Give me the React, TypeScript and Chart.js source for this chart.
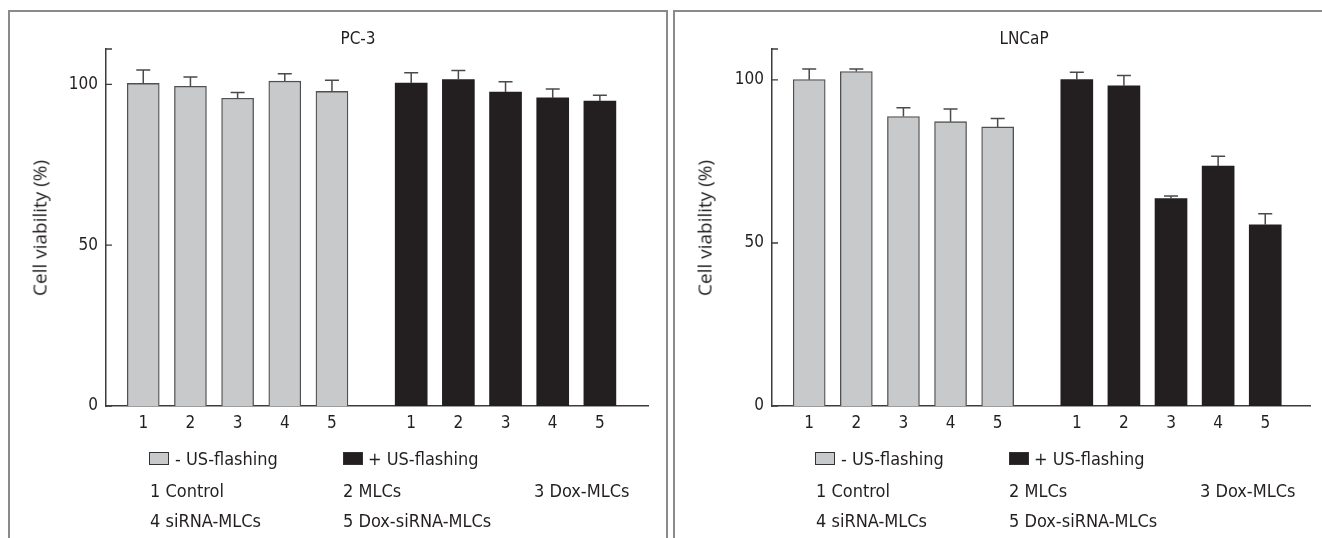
import React, { useEffect, useRef } from "react";
import { Chart, registerables } from "chart.js";

Chart.register(...registerables);

// ---------- data ----------
const tickLabels = ["1", "2", "3", "4", "5"];
const yTickValues = [0, 50, 100];
const seriesLabels = ["- US-flashing", "+ US-flashing"];
const treatmentLabels = ["1 Control", "2 MLCs", "3 Dox-MLCs", "4 siRNA-MLCs", "5 Dox-siRNA-MLCs"];
const yAxisTitle = "Cell viability (%)";

const pc3Title = "PC-3";
const pc3Minus = [100.3, 99.4, 95.7, 101.0, 97.8];
const pc3MinusErr = [4.2, 2.9, 1.8, 2.3, 3.5];
const pc3Plus = [100.4, 101.5, 97.6, 95.8, 94.8];
const pc3PlusErr = [3.2, 2.8, 3.2, 2.8, 1.8];

const lncapTitle = "LNCaP";
const lncapMinus = [100.1, 102.6, 88.8, 87.2, 85.6];
const lncapMinusErr = [3.3, 0.8, 2.7, 3.9, 2.6];
const lncapPlus = [100.1, 98.2, 63.6, 73.6, 55.6];
const lncapPlusErr = [2.3, 3.2, 0.8, 3.0, 3.4];

// ---------- styles / layout ----------
const GRAY = "#c8c9cb";
const BLACK = "#231f20";
const AXIS = "#3c3c3c";
const TEXT = "#231f20";
const COND = "'DejaVu Sans Condensed', 'Liberation Sans Narrow', sans-serif";
const HUMAN = "'Open Sans', 'Noto Sans', sans-serif";
const TOP = 10;
const PAGE_H = 538;
const AXIS_TOP = 49;
const BASE_Y = 406;
const GROUP_SHIFT = 5.68; // slot shift of the second group

const minusPos = tickLabels.map((_, i) => i + 1);
const plusPos = tickLabels.map((_, i) => i + 1 + GROUP_SHIFT);

type Layout = {
  left: number;
  width: number;
  axisX: number;
  axisEndX: number;
  xMin: number;
  xMax: number;
  yMax: number;
  titleX: number;
};

type PanelCfg = {
  title: string;
  minus: number[];
  minusErr: number[];
  plus: number[];
  plusErr: number[];
  L: Layout;
};

const panels: PanelCfg[] = [
  {
    title: pc3Title,
    minus: pc3Minus,
    minusErr: pc3MinusErr,
    plus: pc3Plus,
    plusErr: pc3PlusErr,
    L: { left: 8, width: 660, axisX: 106, axisEndX: 648, xMin: 0.21, xMax: 11.7, yMax: 111, titleX: 358 },
  },
  {
    title: lncapTitle,
    minus: lncapMinus,
    minusErr: lncapMinusErr,
    plus: lncapPlus,
    plusErr: lncapPlusErr,
    L: { left: 673, width: 700, axisX: 772, axisEndX: 1310, xMin: 0.21, xMax: 11.63, yMax: 109.5, titleX: 1024 },
  },
];

const errorBarPlugin = {
  id: "errbars",
  afterDatasetsDraw(chart: any) {
    const ctx = chart.ctx;
    const ys = chart.scales.y;
    chart.data.datasets.forEach((ds: any, di: number) => {
      const meta = chart.getDatasetMeta(di);
      meta.data.forEach((el: any, i: number) => {
        const v = ds.data[i].y;
        const e = ds.errors[i];
        const yTop = ys.getPixelForValue(v + e);
        ctx.save();
        ctx.strokeStyle = "#4a4a4a";
        ctx.lineWidth = 1.5;
        ctx.beginPath();
        ctx.moveTo(el.x, el.y);
        ctx.lineTo(el.x, yTop);
        ctx.moveTo(el.x - 7, yTop);
        ctx.lineTo(el.x + 7, yTop);
        ctx.stroke();
        ctx.restore();
      });
    });
  },
};

const axisTickPlugin = {
  id: "inticks",
  afterDraw(chart: any) {
    const ctx = chart.ctx;
    const ys = chart.scales.y;
    const x0 = chart.chartArea.left;
    ctx.save();
    ctx.strokeStyle = AXIS;
    ctx.lineWidth = 1.3;
    ctx.beginPath();
    yTickValues.forEach((v) => {
      const y = ys.getPixelForValue(v);
      ctx.moveTo(x0, y);
      ctx.lineTo(x0 + 6, y);
    });
    ctx.moveTo(x0, chart.chartArea.top);
    ctx.lineTo(x0 + 6, chart.chartArea.top);
    ctx.stroke();
    ctx.restore();
  },
};

function PanelChart({ cfg }: { cfg: PanelCfg }) {
  const ref = useRef<HTMLCanvasElement>(null);
  const L = cfg.L;
  const W = L.width;
  const H = PAGE_H - TOP;
  useEffect(() => {
    const font = { family: COND, size: 17 };
    const chart = new Chart(ref.current as HTMLCanvasElement, {
      type: "bar",
      data: {
        datasets: [
          {
            label: seriesLabels[0],
            data: minusPos.map((x, i) => ({ x, y: cfg.minus[i] })),
            errors: cfg.minusErr,
            backgroundColor: GRAY,
            borderColor: "#505050",
            borderWidth: 1.3,
            barThickness: 32,
            grouped: false,
          } as any,
          {
            label: seriesLabels[1],
            data: plusPos.map((x, i) => ({ x, y: cfg.plus[i] })),
            errors: cfg.plusErr,
            backgroundColor: BLACK,
            borderColor: BLACK,
            borderWidth: 0,
            barThickness: 32,
            grouped: false,
          } as any,
        ],
      },
      options: {
        responsive: false,
        animation: false,
        devicePixelRatio: 1,
        layout: {
          padding: { left: 0, top: AXIS_TOP - TOP, right: W - (L.axisEndX - L.left), bottom: 0 },
        },
        plugins: { legend: { display: false }, tooltip: { enabled: false }, title: { display: false } },
        scales: {
          x: {
            type: "linear",
            offset: false,
            min: L.xMin,
            max: L.xMax,
            afterBuildTicks: (s: any) => {
              s.ticks = [...minusPos, ...plusPos].map((v) => ({ value: v }));
            },
            afterFit: (s: any) => {
              s.height = H - (BASE_Y - TOP);
            },
            ticks: {
              callback: (_v: any, i: number) => tickLabels[i % tickLabels.length],
              font,
              color: TEXT,
              padding: 7,
              autoSkip: false,
              maxRotation: 0,
            },
            grid: { display: false, drawTicks: false, offset: false },
            border: { display: true, color: AXIS, width: 1.5 },
          },
          y: {
            min: 0,
            max: L.yMax,
            afterBuildTicks: (s: any) => {
              s.ticks = yTickValues.map((v) => ({ value: v }));
            },
            afterFit: (s: any) => {
              s.width = L.axisX - L.left;
            },
            ticks: { font, color: TEXT, padding: 8 },
            grid: { display: false, drawTicks: false },
            border: { display: true, color: AXIS, width: 1.5 },
          },
        } as any,
      },
      plugins: [errorBarPlugin, axisTickPlugin],
    } as any);
    return () => chart.destroy();
  }, []);

  const a = L.axisX;
  const legendFont: React.CSSProperties = {
    position: "absolute",
    fontFamily: COND,
    fontSize: 18,
    color: TEXT,
    whiteSpace: "nowrap",
    transform: "translateY(-50%)",
    lineHeight: 1,
  };
  const box = (x: number, color: string): React.CSSProperties => ({
    position: "absolute",
    left: x,
    top: 452,
    width: 20,
    height: 13,
    background: color,
    border: "1px solid #333",
    boxSizing: "border-box",
  });
  return (
    <>
      <div
        style={{
          position: "absolute",
          left: L.left,
          top: TOP,
          width: W,
          height: 700,
          border: "2px solid #8a8a8a",
          boxSizing: "border-box",
        }}
      />
      <canvas
        ref={ref}
        width={W}
        height={H}
        style={{ position: "absolute", left: L.left, top: TOP, width: W, height: H }}
      />
      <div
        style={{
          position: "absolute",
          left: L.titleX,
          top: 38,
          transform: "translate(-50%, -50%)",
          fontFamily: COND,
          fontSize: 17,
          color: TEXT,
          whiteSpace: "nowrap",
          lineHeight: 1,
        }}
      >
        {cfg.title}
      </div>
      <div
        style={{
          position: "absolute",
          left: L.left + 32,
          top: 228,
          transform: "translate(-50%, -50%) rotate(-90deg)",
          fontFamily: HUMAN,
          fontSize: 19,
          color: TEXT,
          whiteSpace: "nowrap",
          lineHeight: 1,
        }}
      >
        {yAxisTitle}
      </div>
      <div style={box(a + 43, GRAY)} />
      <div style={{ ...legendFont, left: a + 69, top: 459 }}>{seriesLabels[0]}</div>
      <div style={box(a + 237, BLACK)} />
      <div style={{ ...legendFont, left: a + 262, top: 459 }}>{seriesLabels[1]}</div>
      <div style={{ ...legendFont, left: a + 44, top: 491 }}>{treatmentLabels[0]}</div>
      <div style={{ ...legendFont, left: a + 237, top: 491 }}>{treatmentLabels[1]}</div>
      <div style={{ ...legendFont, left: a + 428, top: 491 }}>{treatmentLabels[2]}</div>
      <div style={{ ...legendFont, left: a + 44, top: 521 }}>{treatmentLabels[3]}</div>
      <div style={{ ...legendFont, left: a + 237, top: 521 }}>{treatmentLabels[4]}</div>
    </>
  );
}

export default function App() {
  return (
    <div
      style={{
        position: "absolute",
        left: 0,
        top: 0,
        width: 1322,
        height: PAGE_H,
        overflow: "hidden",
        background: "#fff",
      }}
    >
      {panels.map((p) => (
        <PanelChart key={p.title} cfg={p} />
      ))}
    </div>
  );
}
